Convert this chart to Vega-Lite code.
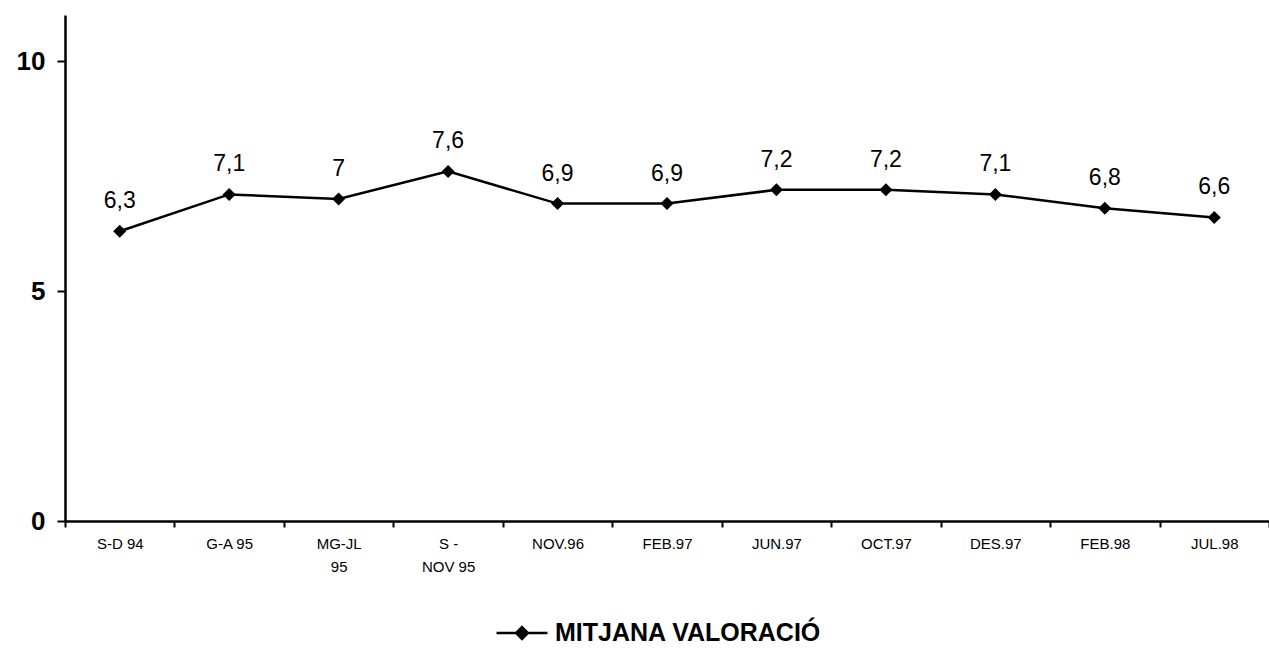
{
  "$schema": "https://vega.github.io/schema/vega-lite/v6.json",
  "width": 1204,
  "height": 506,
  "autosize": "none",
  "padding": {"left": 65, "top": 15, "right": 0, "bottom": 129},
  "background": "white",
  "config": {
    "view": {"stroke": null},
    "font": "Liberation Sans",
    "locale": {"number": {"decimal": ",", "thousands": ".", "grouping": [3], "currency": ["", " €"]}}
  },
  "data": {
    "values": [
      {"periode": "S-D 94", "valor": 6.3, "serie": "MITJANA VALORACIÓ"},
      {"periode": "G-A 95", "valor": 7.1, "serie": "MITJANA VALORACIÓ"},
      {"periode": "MG-JL 95", "valor": 7.0, "serie": "MITJANA VALORACIÓ"},
      {"periode": "S - NOV 95", "valor": 7.6, "serie": "MITJANA VALORACIÓ"},
      {"periode": "NOV.96", "valor": 6.9, "serie": "MITJANA VALORACIÓ"},
      {"periode": "FEB.97", "valor": 6.9, "serie": "MITJANA VALORACIÓ"},
      {"periode": "JUN.97", "valor": 7.2, "serie": "MITJANA VALORACIÓ"},
      {"periode": "OCT.97", "valor": 7.2, "serie": "MITJANA VALORACIÓ"},
      {"periode": "DES.97", "valor": 7.1, "serie": "MITJANA VALORACIÓ"},
      {"periode": "FEB.98", "valor": 6.8, "serie": "MITJANA VALORACIÓ"},
      {"periode": "JUL.98", "valor": 6.6, "serie": "MITJANA VALORACIÓ"}
    ]
  },
  "encoding": {
    "x": {
      "field": "periode", "type": "nominal", "sort": null,
      "scale": {"paddingInner": 0, "paddingOuter": 0},
      "axis": {
        "title": null, "labelAngle": 0, "domainColor": "black", "domainWidth": 2.5,
        "tickColor": "black", "tickWidth": 2, "tickSize": 6, "tickBand": "extent",
        "labelFont": "Liberation Sans", "labelFontSize": 15, "labelColor": "black",
        "labelPadding": 9, "labelLineHeight": 23,
        "labelExpr": "datum.label == 'MG-JL 95' ? ['MG-JL','95'] : datum.label == 'S - NOV 95' ? ['S -','NOV 95'] : datum.label"
      }
    },
    "y": {
      "field": "valor", "type": "quantitative",
      "scale": {"domain": [0, 11], "nice": false},
      "axis": {
        "title": null, "values": [0, 5, 10], "grid": false, "domainColor": "black", "domainWidth": 2.5,
        "tickColor": "black", "tickWidth": 2, "tickSize": 8,
        "labelFont": "Liberation Sans", "labelFontSize": 26, "labelFontWeight": "bold",
        "labelColor": "black", "labelPadding": 12
      }
    }
  },
  "layer": [
    {
      "mark": {"type": "line", "color": "black", "strokeWidth": 2.5},
      "encoding": {
        "color": {
          "field": "serie", "type": "nominal",
          "scale": {"range": ["black"]},
          "legend": {
            "title": null, "orient": "none", "legendX": 430, "legendY": 591,
            "symbolType": "M-1,0H1M0,-0.23L0.23,0L0,0.23L-0.23,0Z",
            "symbolSize": 2600, "symbolStrokeWidth": 2.5, "symbolFillColor": "black", "symbolStrokeColor": "black",
            "labelFont": "Liberation Sans", "labelFontSize": 25, "labelFontWeight": "bold", "labelColor": "black",
            "labelOffset": 6, "labelLimit": 0
          }
        }
      }
    },
    {
      "mark": {"type": "point", "shape": "diamond", "filled": true, "color": "black", "size": 170, "opacity": 1}
    },
    {
      "mark": {"type": "text", "fontSize": 23, "font": "Liberation Sans", "color": "black", "dy": -23, "baseline": "alphabetic"},
      "encoding": {"text": {"field": "valor", "type": "quantitative", "format": ".1~f"}}
    }
  ]
}
